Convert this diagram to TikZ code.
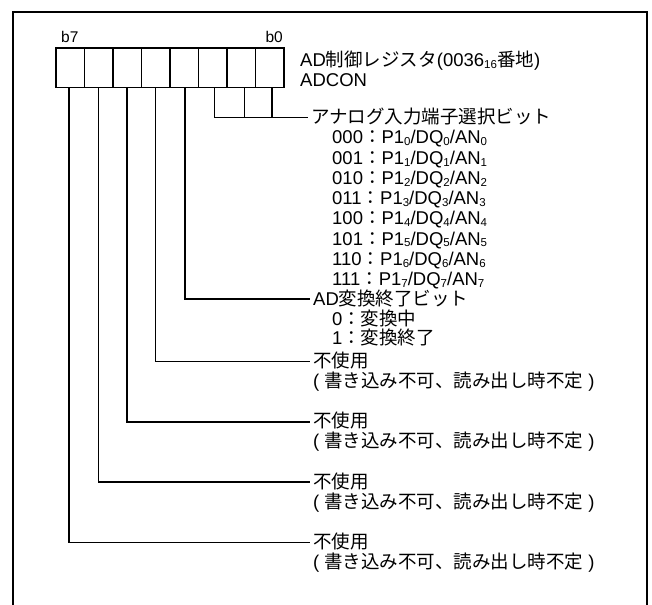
\documentclass[tikz,border=0pt]{standalone}
\usepackage{fontspec}
\setmainfont{Liberation Sans}
\newfontfamily\jp{Noto Sans CJK JP}
\newcommand\sbs[1]{\raisebox{-1.8pt}{\fontsize{11.5}{11.5}\selectfont #1}}
\newcommand\jcolon{{\jp ：}}
\begin{document}
\begin{tikzpicture}[x=1pt,y=-1pt,
  bitbox/.style={draw, line width=1.5pt, minimum width=28.5pt, minimum height=39.4pt, inner sep=0pt, anchor=north west},
  lbl/.style={anchor=west, inner sep=0pt, text height=13pt, text depth=1pt, font=\fontsize{18.5}{20}\selectfont},
  sub/.style={anchor=base west, inner sep=0pt, font=\fontsize{18.5}{20}\selectfont},
  bitlbl/.style={inner sep=0pt, font=\fontsize{15.5}{16}\selectfont},
  lead/.style={line width=1.5pt},
  leadend/.style={line width=1.5pt, shorten >=3pt},
  framestyle/.style={line width=2pt}]
\useasboundingbox (0,0) rectangle (652,604);
\fill[white] (0,0) rectangle (652,604);
% outer frame (open at bottom)
\draw[framestyle] (12.5,606) -- (12.5,12) -- (647,12) -- (647,606);
% register bits
\foreach \i in {0,...,7}{
  \pgfmathtruncatemacro\b{7-\i}
  \node[bitbox] (r\b) at ({55+28.5*\i},47.3) {};
}
\node[bitlbl, anchor=base west] (lb7) at (61,43) {b7};
\node[bitlbl, anchor=base east] (lb0) at (283,43) {b0};
% title
\node[sub] (reg) at (300,67) {AD{\jp 制御レジスタ}(0036\sbs{16}{\jp 番地})};
\node[sub] (adcon) at (300,87) {ADCON};
% analog select
\node[lbl] (sel) at (311,117.3) {{\jp アナログ入力端子選択ビット}};
\foreach \k/\code in {0/000,1/001,2/010,3/011,4/100,5/101,6/110,7/111}{
  \node[sub] (c\k) at (332,{144+20.2*\k}) {\code\jcolon P1\sbs{\k}/DQ\sbs{\k}/AN\sbs{\k}};
}
% conversion end
\node[lbl] (conv) at (313,299) {AD{\jp 変換終了ビット}};
\node[sub] (cv0) at (332,325) {0\jcolon{\jp 変換中}};
\node[sub] (cv1) at (332,344) {1\jcolon{\jp 変換終了}};
% unused bits
\foreach \k in {1,...,4}{
  \node[lbl] (nu\k) at (313,{361.7+60.2*(\k-1)}) {{\jp 不使用}};
  \node[sub] (np\k) at (313,{361.7+60.2*(\k-1)+26}) {(\hspace{5pt}{\jp 書き込み不可、読み出し時不定}\hspace{5pt})};
}
% leader lines
\draw[leadend] ([xshift=2pt]r2.south) |- (sel.west);
\draw[lead] ([xshift=3.5pt]r1.south) -- ([xshift=3.5pt]r1.south |- sel.west);
\draw[lead] ([xshift=2.5pt]r0.south) -- ([xshift=2.5pt]r0.south |- sel.west);
\draw[leadend] ([xshift=1pt]r3.south) |- (conv.west);
\draw[leadend] (r4.south) |- (nu1.west);
\draw[leadend] (r5.south) |- (nu2.west);
\draw[leadend] (r6.south) |- (nu3.west);
\draw[leadend] ([xshift=-1pt]r7.south) |- (nu4.west);
\end{tikzpicture}
\end{document}
